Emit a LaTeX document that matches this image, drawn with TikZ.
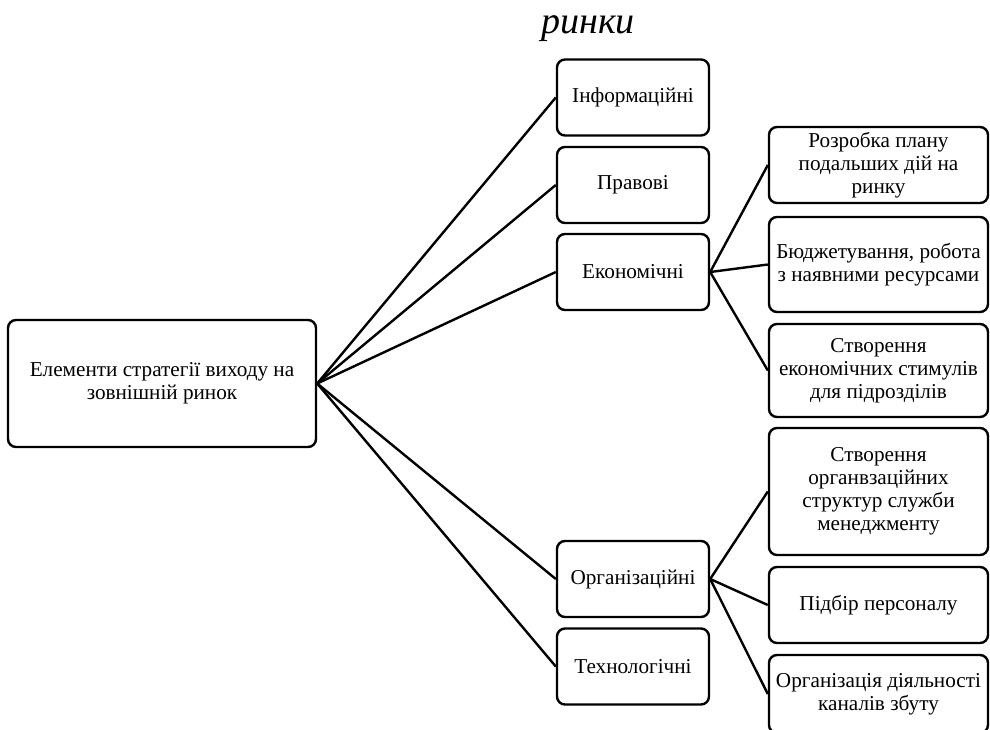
\documentclass[tikz,border=0pt]{standalone}
\usepackage{fontspec}
\setmainfont{Liberation Serif}
\begin{document}
\begin{tikzpicture}[x=1pt,y=-1pt,
  box/.style={draw, line width=2.4pt, rounded corners=8pt, align=center,
    font=\fontsize{21.2}{23}\selectfont, inner sep=1pt},
  link/.style={line width=2.4pt}]
\useasboundingbox (0,0) rectangle (990,729);
\node[font=\itshape\fontsize{38}{44}\selectfont] (title) at (588,29) {ринки};
\node[box, minimum width=308pt, minimum height=127pt] (root) at (162,383.5) {Елементи стратегії виходу на\\зовнішній ринок};
\tikzset{mid/.style={box, minimum width=152pt, minimum height=76pt}}
\node[mid] (inf) at (633,97.5) {Інформаційні};
\node[mid] (prav) at (633,185) {Правові};
\node[mid] (ek) at (633,272) {Економічні};
\node[mid] (org) at (633,579) {Організаційні};
\node[mid] (tech) at (633,666.5) {Технологічні};
\tikzset{rt/.style={box, minimum width=219pt}}
\node[rt, minimum height=76pt] (r1) at (878.5,165) {Розробка плану\\подальших дій на\\ринку};
\node[rt, minimum height=95pt] (r2) at (878.5,264.5) {Бюджетування, робота\\з наявними ресурсами};
\node[rt, minimum height=93pt] (r3) at (878.5,370.5) {Створення\\економічних стимулів\\для підрозділів};
\node[rt, minimum height=127pt] (r4) at (878.5,491.5) {Створення\\органвзаційних\\структур служби\\менеджменту};
\node[rt, minimum height=76pt] (r5) at (878.5,605) {Підбір персоналу};
\node[rt, minimum height=78pt] (r6) at (878.5,694) {Організація діяльності\\каналів збуту};
\foreach \m in {inf,prav,ek,org,tech} \draw[link] (root.east) -- (\m.west);
\foreach \r in {r1,r2,r3} \draw[link] (ek.east) -- (\r.west);
\foreach \r in {r4,r5,r6} \draw[link] (org.east) -- (\r.west);
\end{tikzpicture}
\end{document}
